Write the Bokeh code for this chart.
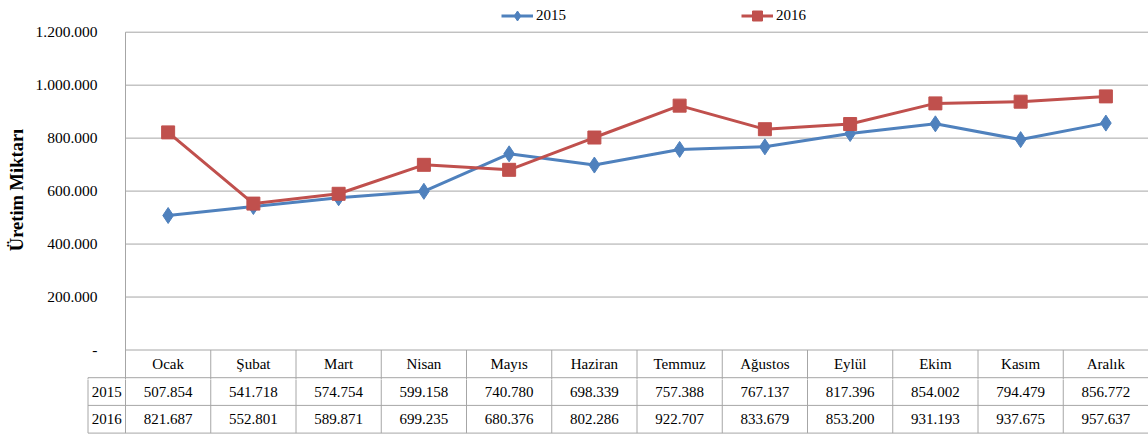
from bokeh.plotting import figure
from bokeh.models import Range1d, FixedTicker, Legend, LegendItem, ColumnDataSource
from bokeh.layouts import column
from bokeh.core.properties import value
from bokeh.embed import file_html
from bokeh.resources import INLINE

# ---------------- data ----------------
months = ["Ocak", "Şubat", "Mart", "Nisan", "Mayıs", "Haziran",
          "Temmuz", "Ağustos", "Eylül", "Ekim", "Kasım", "Aralık"]
series_names = ["2015", "2016"]
values_2015 = [507854, 541718, 574754, 599158, 740780, 698339,
               757388, 767137, 817396, 854002, 794479, 856772]
values_2016 = [821687, 552801, 589871, 699235, 680376, 802286,
               922707, 833679, 853200, 931193, 937675, 957637]
y_ticks = [0, 200000, 400000, 600000, 800000, 1000000, 1200000]
y_tick_labels = ["-", "200.000", "400.000", "600.000", "800.000",
                 "1.000.000", "1.200.000"]
y_axis_title = "Üretim Miktarı"


def tr_fmt(v):
    return f"{v:,}".replace(",", ".")


# ---------------- style / layout (pixels) ----------------
FONT = "Liberation Serif"
BLUE = "#4f81bd"
RED = "#c0504d"
GRID = "#a6a6a6"

W = 1148
FRAME_LEFT = 86          # frame left edge (year column starts here)
AXIS_X = 125             # x pixel of the value axis / first column edge
n = len(months)
col_px = (W - AXIS_X) / n
x_start = -(AXIS_X - FRAME_LEFT) / col_px
x_year_edge = -(AXIS_X - FRAME_LEFT - 1.5) / col_px

ZERO_PX = 349.5          # pixel row of value 0
TOP_PX = 31.7            # pixel row of top gridline
ROW = 27.7               # table row height in pixels
H1 = 379                 # chart figure height (includes header row)
H2 = 435 - H1            # table figure height (two data rows)
u = max(y_ticks) / (ZERO_PX - TOP_PX)   # value units per pixel

p = figure(width=W, height=H1, output_backend="svg", toolbar_location=None,
           x_range=Range1d(x_start, n),
           y_range=Range1d(-(H1 - ZERO_PX) * u, max(y_ticks) + TOP_PX * u),
           x_axis_location=None,
           min_border_left=FRAME_LEFT, min_border_right=0,
           min_border_top=0, min_border_bottom=0)
p.outline_line_color = None
p.grid.visible = False

yax = p.yaxis[0]
yax.ticker = FixedTicker(ticks=y_ticks)
yax.major_label_overrides = dict(zip(y_ticks, y_tick_labels))
yax.major_tick_out = 0
yax.major_tick_in = 0
yax.minor_tick_out = 0
yax.minor_tick_in = 0
yax.axis_line_color = None
yax.major_label_standoff = -11
yax.major_label_text_font = FONT
yax.major_label_text_font_size = "15.5px"
yax.major_label_text_color = "black"
yax.axis_label = y_axis_title
yax.axis_label_text_font = FONT
yax.axis_label_text_font_style = "bold"
yax.axis_label_text_font_size = "18.5px"
yax.axis_label_text_color = "black"
yax.axis_label_standoff = 6

# gridlines (from the value axis to the right edge)
p.segment(x0=[0] * len(y_ticks), x1=[n] * len(y_ticks), y0=y_ticks, y1=y_ticks,
          line_color=GRID, line_width=1)
# value axis line, running down through the table
p.segment(x0=[0], x1=[0], y0=[max(y_ticks)], y1=[-(H1 - ZERO_PX) * u],
          line_color=GRID, line_width=1)
# header row of the table: column dividers and bottom line
hdr_bottom = -ROW * u
p.segment(x0=list(range(1, n)), x1=list(range(1, n)), y0=[0] * (n - 1),
          y1=[-(H1 - ZERO_PX) * u] * (n - 1), line_color=GRID, line_width=1)
p.segment(x0=[x_year_edge], x1=[n], y0=[hdr_bottom], y1=[hdr_bottom],
          line_color=GRID, line_width=1)
p.segment(x0=[x_year_edge], x1=[x_year_edge], y0=[hdr_bottom],
          y1=[-(H1 - ZERO_PX) * u], line_color=GRID, line_width=1)

xs = [i + 0.5 for i in range(n)]
src = ColumnDataSource(dict(x=xs, v15=values_2015, v16=values_2016))

l15 = p.line("x", "v15", source=src, line_color=BLUE, line_width=3)
s15 = p.scatter("x", "v15", source=src, marker="diamond", size=16,
                fill_color=BLUE, line_color=BLUE)
l16 = p.line("x", "v16", source=src, line_color=RED, line_width=3)
s16 = p.scatter("x", "v16", source=src, marker="square", size=13,
                fill_color=RED, line_color=RED)

txt = dict(text_font=value(FONT), text_font_size=value("15px"), text_color="black",
           text_align="center", text_baseline="middle")
p.text(x=xs, y=[-ROW / 2 * u] * n, text=months, **txt)

LEG_H = 25
legend = Legend(items=[LegendItem(label=series_names[0], renderers=[l15, s15]),
                       LegendItem(label=series_names[1], renderers=[l16, s16])],
                orientation="horizontal", location=(415, H1 - 3 - LEG_H),
                glyph_width=32, glyph_height=LEG_H, label_height=LEG_H,
                label_standoff=3, spacing=175, padding=0, margin=0,
                border_line_color=None, background_fill_alpha=0,
                label_text_font=FONT, label_text_font_size="15px",
                label_text_color="black")
p.add_layout(legend)

# ---------------- data rows of the table (units: pixels below the zero line) ----------------
t = figure(width=W, height=H2, output_backend="svg", toolbar_location=None,
           x_range=Range1d(x_start, n), y_range=Range1d(-(435 - ZERO_PX), -(H1 - ZERO_PX)),
           x_axis_location=None, y_axis_location=None,
           min_border_left=FRAME_LEFT, min_border_right=0,
           min_border_top=0, min_border_bottom=0)
t.outline_line_color = None
t.grid.visible = False

vx = list(range(n))
t.segment(x0=vx, y0=[0] * n, x1=vx, y1=[-3 * ROW] * n, line_color=GRID, line_width=1)
t.segment(x0=[x_year_edge], y0=[0], x1=[x_year_edge], y1=[-3 * ROW],
          line_color=GRID, line_width=1)
hy = [-2 * ROW, -3 * ROW]
t.segment(x0=[x_year_edge] * 2, y0=hy, x1=[n] * 2, y1=hy, line_color=GRID, line_width=1)

t.text(x=xs, y=[-1.5 * ROW] * n, text=[tr_fmt(v) for v in values_2015], **txt)
t.text(x=xs, y=[-2.5 * ROW] * n, text=[tr_fmt(v) for v in values_2016], **txt)
t.text(x=[(x_year_edge + 0) / 2] * 2, y=[-1.5 * ROW, -2.5 * ROW], text=series_names, **txt)

layout = column(p, t, spacing=0)
open("out.html", "w").write(file_html(layout, INLINE))
